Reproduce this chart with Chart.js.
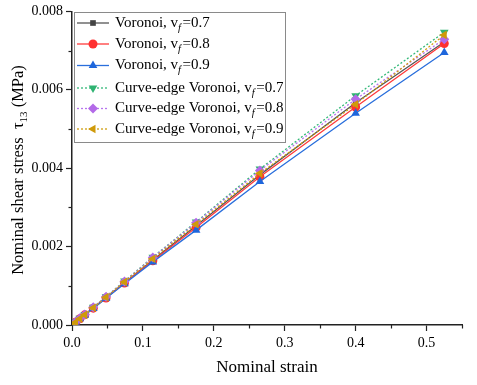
<!DOCTYPE html>
<html>
<head>
<meta charset="utf-8">
<script src="https://cdn.jsdelivr.net/npm/chart.js@4"></script>
<style>
html,body{margin:0;padding:0;background:#fff;}
#wrap{width:477px;height:385px;position:relative;}
</style>
</head>
<body>
<div id="wrap"><canvas id="c" width="477" height="385"></canvas></div>
<script>
const strain = [0, 0.005, 0.011, 0.018, 0.030, 0.048, 0.074, 0.114, 0.175, 0.265, 0.400, 0.525];
const voronoi07 = [0, 0.00007, 0.00016, 0.00026, 0.00044, 0.00070, 0.00108, 0.00166, 0.00253, 0.00383, 0.00567, 0.00722];
const voronoi08 = [0, 0.00007, 0.00016, 0.00026, 0.00043, 0.00069, 0.00107, 0.00164, 0.00249, 0.00378, 0.00556, 0.00718];
const voronoi09 = [0, 0.00007, 0.00016, 0.00025, 0.00042, 0.00068, 0.00105, 0.00161, 0.00242, 0.00366, 0.00540, 0.00695];
const curve07 = [0, 0.00008, 0.00017, 0.00027, 0.00045, 0.00072, 0.00112, 0.00173, 0.00263, 0.00398, 0.00585, 0.00747];
const curve08 = [0, 0.00008, 0.00017, 0.00027, 0.00045, 0.00072, 0.00111, 0.00172, 0.00261, 0.00394, 0.00576, 0.00729];
const curve09 = [0, 0.00007, 0.00016, 0.00026, 0.00044, 0.00071, 0.00110, 0.00169, 0.00257, 0.00387, 0.00563, 0.00740];
const xTicks = [0, 0.1, 0.2, 0.3, 0.4, 0.5];
const yTicks = [0, 0.002, 0.004, 0.006, 0.008];
const xMinorTicks = [0.05, 0.15, 0.25, 0.35, 0.45, 0.55];
const yMinorTicks = [0.001, 0.003, 0.005, 0.007];
const seriesNames = ['Voronoi, v', 'Voronoi, v', 'Voronoi, v', 'Curve-edge Voronoi, v', 'Curve-edge Voronoi, v', 'Curve-edge Voronoi, v'];
const seriesVf = ['0.7', '0.8', '0.9', '0.7', '0.8', '0.9'];

const FONT = '"Liberation Serif", "Times New Roman", serif';
const styles = [
  {line:'#555555', fill:'#444444', ps:'rect', rot:0, dash:[], r:4},
  {line:'#ff3b3b', fill:'#ff3030', ps:'circle', rot:0, dash:[], r:4.5},
  {line:'#2a6fdc', fill:'#1e66dc', ps:'triangle', rot:0, dash:[], r:5},
  {line:'#33b878', fill:'#2fb372', ps:'triangle', rot:180, dash:[2,2], r:5},
  {line:'#b774ee', fill:'#b36ae8', ps:'rectRot', rot:0, dash:[2,2], r:5},
  {line:'#d09e10', fill:'#cf9a0a', ps:'triangle', rot:-90, dash:[2,2], r:5}
];
const allY = [voronoi07, voronoi08, voronoi09, curve07, curve08, curve09];

const datasets = allY.map((ys, i) => ({
  label: seriesNames[i] + seriesVf[i],
  data: strain.map((x, k) => ({x: x, y: ys[k]})),
  borderColor: styles[i].line,
  backgroundColor: styles[i].fill,
  pointBackgroundColor: styles[i].fill,
  pointBorderColor: styles[i].fill,
  pointBorderWidth: 0,
  pointStyle: styles[i].ps,
  pointRotation: styles[i].rot,
  pointRadius: styles[i].r,
  borderWidth: 1.3,
  borderDash: styles[i].dash,
  tension: 0,
  fill: false,
  order: 6 - i
}));

const extras = {
  id: 'extras',
  afterDraw(chart) {
    const ctx = chart.ctx;
    const xs = chart.scales.x, ys = chart.scales.y;
    const ca = chart.chartArea;
    ctx.save();
    // minor ticks
    ctx.strokeStyle = '#222';
    ctx.lineWidth = 1.2;
    xMinorTicks.forEach(v => {
      const px = Math.round(xs.getPixelForValue(v)) + 0.5;
      ctx.beginPath(); ctx.moveTo(px, ca.bottom); ctx.lineTo(px, ca.bottom + 3.5); ctx.stroke();
    });
    yMinorTicks.forEach(v => {
      const py = Math.round(ys.getPixelForValue(v)) + 0.5;
      ctx.beginPath(); ctx.moveTo(ca.left, py); ctx.lineTo(ca.left - 3.5, py); ctx.stroke();
    });
    // y title with subscript
    ctx.fillStyle = '#000';
    ctx.translate(19, 170);
    ctx.rotate(-Math.PI / 2);
    ctx.textBaseline = 'middle';
    const big = '16.5px ' + FONT, small = '11px ' + FONT;
    const p1 = 'Nominal shear stress  \u03c4', p2 = '13', p3 = ' (MPa)';
    ctx.font = big; const w1 = ctx.measureText(p1).width; const w3 = ctx.measureText(p3).width;
    ctx.font = small; const w2 = ctx.measureText(p2).width;
    let x0 = -(w1 + w2 + w3) / 2;
    ctx.font = big; ctx.textAlign = 'left';
    ctx.fillText(p1, x0, 0);
    ctx.font = small; ctx.fillText(p2, x0 + w1, 5);
    ctx.font = big; ctx.fillText(p3, x0 + w1 + w2, 0);
    ctx.restore();

    // legend
    ctx.save();
    const bx = 74.5, by = 12.5, bw = 211, bh = 130;
    ctx.fillStyle = '#fff';
    ctx.fillRect(bx, by, bw, bh);
    ctx.strokeStyle = '#8a8a8a';
    ctx.lineWidth = 1;
    ctx.strokeRect(bx, by, bw, bh);
    const rowY = [23, 44, 65.5, 88, 108.5, 129];
    styles.forEach((s, i) => {
      const y = rowY[i];
      ctx.strokeStyle = s.line;
      ctx.lineWidth = 1.3;
      ctx.setLineDash(s.dash);
      ctx.beginPath(); ctx.moveTo(77, y); ctx.lineTo(109, y); ctx.stroke();
      ctx.setLineDash([]);
      ctx.fillStyle = s.fill;
      ctx.strokeStyle = s.fill;
      Chart.helpers.drawPoint(ctx, {pointStyle: s.ps, rotation: s.rot, radius: s.r, borderWidth: 0}, 93, y);
      ctx.fillStyle = '#000';
      ctx.textBaseline = 'middle';
      ctx.textAlign = 'left';
      ctx.font = '15px ' + FONT;
      let tx = 115;
      ctx.fillText(seriesNames[i], tx, y);
      tx += ctx.measureText(seriesNames[i]).width;
      ctx.font = 'italic 10.5px ' + FONT;
      ctx.fillText('f', tx, y + 5);
      tx += ctx.measureText('f').width + 1.5;
      ctx.font = '15px ' + FONT;
      ctx.fillText('=' + seriesVf[i], tx, y);
    });
    ctx.restore();
  }
};

new Chart(document.getElementById('c'), {
  type: 'line',
  data: {datasets: datasets},
  options: {
    responsive: false,
    animation: false,
    devicePixelRatio: 1,
    layout: {padding: {left: 0, right: 15, top: 11, bottom: 0}},
    plugins: {legend: {display: false}, tooltip: {enabled: false}},
    scales: {
      x: {
        type: 'linear',
        min: 0, max: 0.55,
        afterFit(s) { s.height = 60; },
        afterBuildTicks(s) { s.ticks = xTicks.map(v => ({value: v})); },
        grid: {display: true, drawOnChartArea: false, drawTicks: true, tickLength: 6, color: '#222', tickWidth: 1.2},
        border: {display: true, color: '#222', width: 1.5},
        ticks: {color: '#000', font: {family: FONT, size: 14}, padding: 4, maxRotation: 0,
          callback: v => Number(v).toFixed(1)},
        title: {display: true, text: 'Nominal strain', color: '#000', font: {family: FONT, size: 17}, padding: {top: 4, bottom: 7}}
      },
      y: {
        type: 'linear',
        min: 0, max: 0.008,
        afterFit(s) { s.width = 72; },
        afterBuildTicks(s) { s.ticks = yTicks.map(v => ({value: v})); },
        grid: {display: true, drawOnChartArea: false, drawTicks: true, tickLength: 6, color: '#222', tickWidth: 1.2},
        border: {display: true, color: '#222', width: 1.5},
        ticks: {color: '#000', font: {family: FONT, size: 14}, padding: 3,
          callback: v => Number(v).toFixed(3)}
      }
    }
  },
  plugins: [extras]
});
</script>
</body>
</html>
